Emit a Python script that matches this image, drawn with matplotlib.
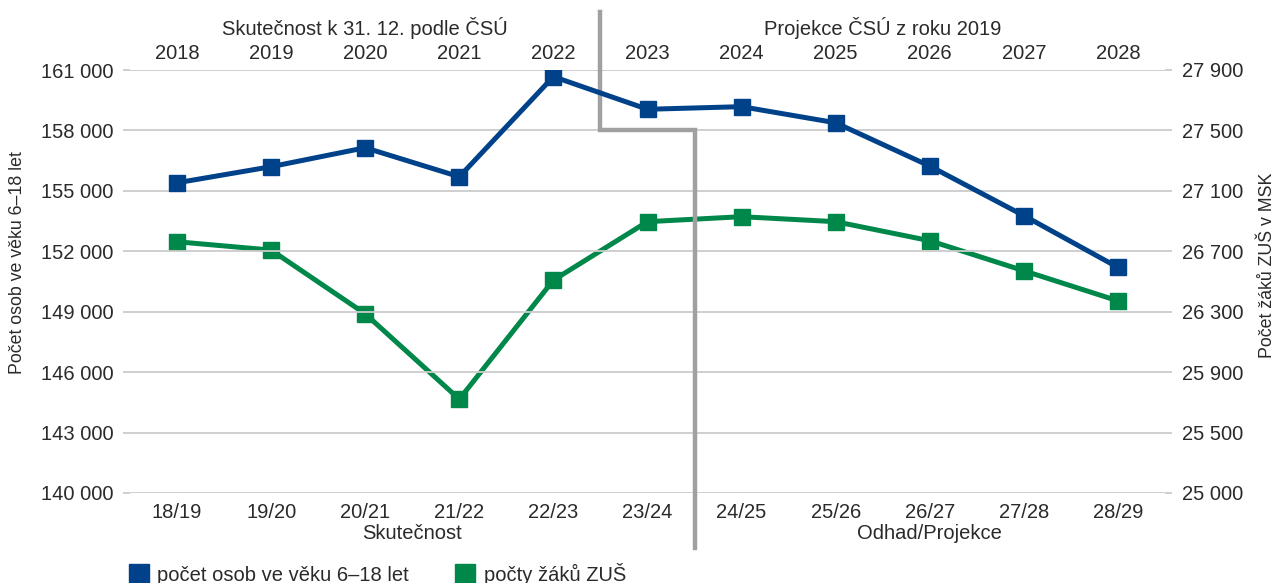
import matplotlib

matplotlib.use("Agg")
import matplotlib.pyplot as plt  # noqa: E402
from matplotlib.lines import Line2D  # noqa: E402
from matplotlib.ticker import FuncFormatter  # noqa: E402

plt.rcParams["font.family"] = ["Liberation Sans", "DejaVu Sans"]

# data
YEARS = ["2018", "2019", "2020", "2021", "2022", "2023", "2024", "2025", "2026", "2027", "2028"]
SCHOOL_YEARS = ["18/19", "19/20", "20/21", "21/22", "22/23", "23/24",
                "24/25", "25/26", "26/27", "27/28", "28/29"]
POPULATION = [155400, 156200, 157140, 155700, 160670, 159050,
              159180, 158380, 156230, 153770, 151200]
ZUS_PUPILS = [26763, 26708, 26286, 25721, 26509, 26896,
              26929, 26896, 26770, 26571, 26372]

LEFT_TICKS = [140000, 143000, 146000, 149000, 152000, 155000, 158000, 161000]
RIGHT_TICKS = [25100, 25500, 25900, 26300, 26700, 27100, 27500, 27900]
RIGHT_LABELS = ["25 000", "25 500", "25 900", "26 300", "26 700", "27 100", "27 500", "27 900"]

BLUE = "#00428a"
GREEN = "#00874a"
GRAY = "#a0a0a0"
GRID = "#cccccc"
TXT = "#2a2a2a"
FS = 14.5
FS_LABEL = 12.8


def thousands(v, _pos=None):
    return f"{v:,.0f}".replace(",", " ")


fig = plt.figure(figsize=(12.79, 5.83), dpi=100)
ax = fig.add_axes([130 / 1279, 1 - 493 / 583, 1035 / 1279, 423 / 583])
ax2 = ax.twinx()

xs = list(range(len(YEARS)))

ax.set_xlim(-0.5, len(YEARS) - 0.5)
ax.set_ylim(LEFT_TICKS[0], LEFT_TICKS[-1])
ax.set_yticks(LEFT_TICKS)
ax.yaxis.set_major_formatter(FuncFormatter(thousands))
ax.grid(axis="y", color=GRID, linewidth=1.3)
ax.set_axisbelow(True)

ax2.set_ylim(RIGHT_TICKS[0], RIGHT_TICKS[-1])
ax2.set_yticks(RIGHT_TICKS)
ax2.set_yticklabels(RIGHT_LABELS)

for a in (ax, ax2):
    for s in a.spines.values():
        s.set_visible(False)
    a.tick_params(axis="y", length=5, color=GRID, width=1.3, labelsize=FS,
                  labelcolor=TXT, pad=7)
ax.tick_params(axis="x", length=0, labelsize=FS, labelcolor=TXT, pad=7)
ax.set_xticks(xs)
ax.set_xticklabels(SCHOOL_YEARS)

# secondary (top) year axis
top = ax.secondary_xaxis("top")
top.set_xticks(xs)
top.set_xticklabels(YEARS)
top.tick_params(length=0, labelsize=FS, labelcolor=TXT, pad=5)
top.spines["top"].set_visible(False)

ax2.plot(xs, ZUS_PUPILS, color=GREEN, lw=3.6, marker="s", ms=11, zorder=3)
ax.plot(xs, POPULATION, color=BLUE, lw=3.6, marker="s", ms=11, zorder=3)
ax.set_zorder(ax2.get_zorder() + 1)
ax.patch.set_visible(False)

# divider between actual data and projection
tr = ax.get_xaxis_transform()
step = (158000 - LEFT_TICKS[0]) / (LEFT_TICKS[-1] - LEFT_TICKS[0])
ax.plot([4.5, 4.5, 5.5, 5.5], [1.137, step, step, -0.13], transform=tr,
        color=GRAY, lw=3.2, clip_on=False, zorder=2, solid_joinstyle="miter")

# group labels
ax.text(2, 1.10, "Skutečnost k 31. 12. podle ČSÚ", transform=tr, ha="center",
        va="center", fontsize=FS, color=TXT)
ax.text(7.5, 1.10, "Projekce ČSÚ z roku 2019", transform=tr, ha="center",
        va="center", fontsize=FS, color=TXT)
ax.text(2.5, -0.095, "Skutečnost", transform=tr, ha="center", va="center",
        fontsize=FS, color=TXT)
ax.text(8, -0.095, "Odhad/Projekce", transform=tr, ha="center", va="center",
        fontsize=FS, color=TXT)

fig.text(18 / 1279, 1 - 263 / 583, "Počet osob ve věku 6–18 let", rotation=90,
         ha="center", va="center", fontsize=FS_LABEL, color=TXT)
fig.text(1268 / 1279, 1 - 265 / 583, "Počet žáků ZUŠ v MSK", rotation=90,
         ha="center", va="center", fontsize=FS_LABEL, color=TXT)

handles = [
    Line2D([], [], color=BLUE, marker="s", ls="none", ms=15),
    Line2D([], [], color=GREEN, marker="s", ls="none", ms=15),
]
fig.legend(handles, ["počet osob ve věku 6–18 let", "počty žáků ZUŠ"],
           loc="center left", bbox_to_anchor=(121 / 1279, 1 - 574 / 583),
           ncol=2, frameon=False, fontsize=FS, handlelength=1.0,
           handletextpad=0.4, columnspacing=2.3, labelcolor=TXT,
           borderaxespad=0)

fig.savefig("out.png", dpi=100)
